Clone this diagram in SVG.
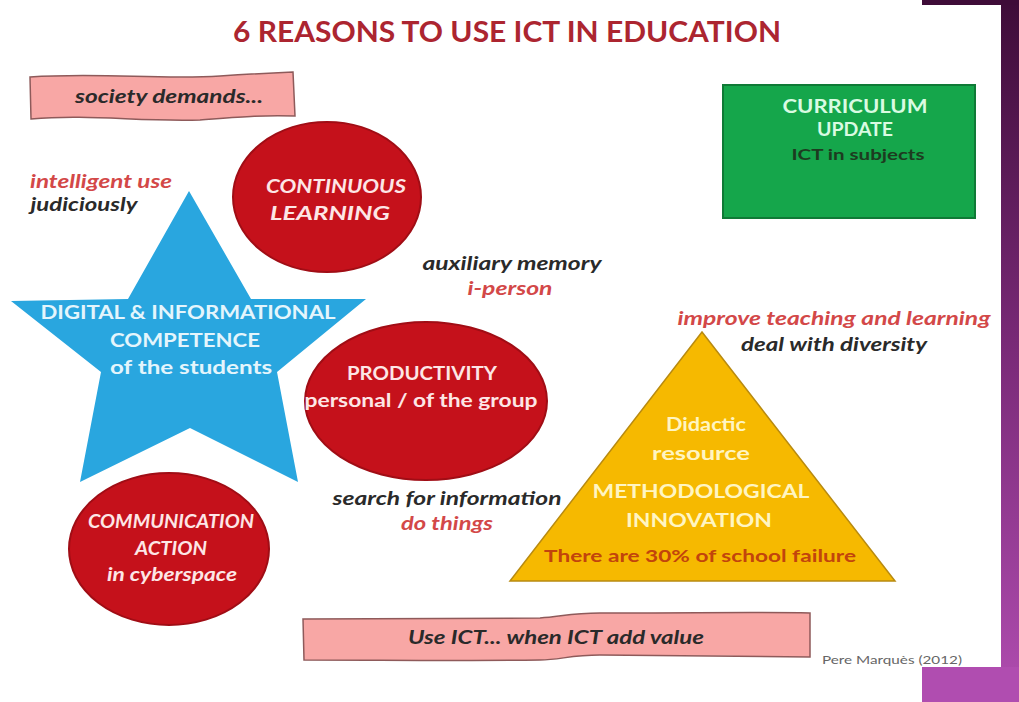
<svg xmlns="http://www.w3.org/2000/svg" width="1019" height="702" viewBox="0 0 1019 702">
<defs>
<linearGradient id="purp" x1="0" y1="0" x2="0" y2="1">
<stop offset="0" stop-color="#3e0c38"/>
<stop offset="0.5" stop-color="#7a2a78"/>
<stop offset="1" stop-color="#b04db0"/>
</linearGradient>
<style>
text{font-family:Lato,"Open Sans","Liberation Sans",sans-serif;font-weight:bold;text-anchor:middle}
.it{font-style:italic}
.red{fill:#d34848}
.dark{fill:#2a2a2a}
.onred{fill:#fde6e6}
.onblue{fill:#e4f5fc}
.onyel{fill:#fff5c2}
.ell{fill:#c5111b;stroke:#a00d15;stroke-width:2}
.banner{fill:#f8a7a5;stroke:#8e5a5a;stroke-width:1.5}
</style>
</defs>
<rect width="1019" height="702" fill="#ffffff"/>
<g id="frame">
<rect x="1001" y="0" width="18" height="702" fill="url(#purp)"/>
<rect x="922" y="0" width="97" height="5" fill="#3e0c38"/>
<rect x="922" y="667" width="97" height="35" fill="#b04db0"/>
</g>
<g id="title">
<text x="507" y="42" font-size="28" fill="#ac2530" textLength="548" lengthAdjust="spacingAndGlyphs">6 REASONS TO USE ICT IN EDUCATION</text>
</g>
<g id="society">
<path class="banner" d="M30,77 C100,72 160,80 220,76 C250,74 270,73 293,72 L295,116 C260,115 240,117 200,120 C140,122 90,114 31,119 Z"/>
<text class="it dark" x="169" y="103" font-size="19" textLength="188" lengthAdjust="spacingAndGlyphs">society demands...</text>
</g>
<g id="labels-left">
<text class="it red" x="101" y="188" font-size="19" textLength="142" lengthAdjust="spacingAndGlyphs">intelligent use</text>
<text class="it dark" x="84" y="211" font-size="19" textLength="107" lengthAdjust="spacingAndGlyphs">judiciously</text>
</g>
<g id="continuous">
<ellipse class="ell" cx="327" cy="197" rx="94" ry="75"/>
<text class="it onred" x="336" y="193" font-size="19" textLength="140" lengthAdjust="spacingAndGlyphs">CONTINUOUS</text>
<text class="it onred" x="330" y="220" font-size="19" textLength="120" lengthAdjust="spacingAndGlyphs">LEARNING</text>
</g>
<g id="competence">
<polygon fill="#29a6df" points="189,191 251,299 366,299 277,372 298,482 190,428 80,482 101,372 11,301 128,299"/>
<text class="onblue" x="188" y="319" font-size="19" textLength="295" lengthAdjust="spacingAndGlyphs">DIGITAL &amp; INFORMATIONAL</text>
<text class="onblue" x="185" y="347" font-size="19" textLength="150" lengthAdjust="spacingAndGlyphs">COMPETENCE</text>
<text class="onblue" x="191" y="374" font-size="19" textLength="162" lengthAdjust="spacingAndGlyphs">of the students</text>
</g>
<g id="labels-mid">
<text class="it dark" x="512" y="270" font-size="19" textLength="179" lengthAdjust="spacingAndGlyphs">auxiliary memory</text>
<text class="it red" x="510" y="295" font-size="19" textLength="85" lengthAdjust="spacingAndGlyphs">i-person</text>
</g>
<g id="productivity">
<ellipse class="ell" cx="426" cy="401" rx="121" ry="79"/>
<text class="onred" x="422" y="380" font-size="18" textLength="150" lengthAdjust="spacingAndGlyphs">PRODUCTIVITY</text>
<text class="onred" x="421" y="407" font-size="19" textLength="233" lengthAdjust="spacingAndGlyphs">personal / of the group</text>
</g>
<g id="labels-search">
<text class="it dark" x="447" y="505" font-size="19" textLength="229" lengthAdjust="spacingAndGlyphs">search for information</text>
<text class="it red" x="447" y="530" font-size="19" textLength="92" lengthAdjust="spacingAndGlyphs">do things</text>
</g>
<g id="communication">
<ellipse class="ell" cx="169" cy="549" rx="100" ry="76"/>
<text class="it onred" x="171" y="528" font-size="18" textLength="166" lengthAdjust="spacingAndGlyphs">COMMUNICATION</text>
<text class="it onred" x="171" y="555" font-size="18" textLength="72" lengthAdjust="spacingAndGlyphs">ACTION</text>
<text class="it onred" x="172" y="581" font-size="18" textLength="130" lengthAdjust="spacingAndGlyphs">in cyberspace</text>
</g>
<g id="curriculum">
<rect x="723" y="85" width="252" height="133" fill="#15a64b" stroke="#0f7a36" stroke-width="2"/>
<text x="855" y="113" font-size="18" fill="#d9fbe2" textLength="145" lengthAdjust="spacingAndGlyphs">CURRICULUM</text>
<text x="855" y="136" font-size="18" fill="#d9fbe2" textLength="76" lengthAdjust="spacingAndGlyphs">UPDATE</text>
<text x="858" y="160" font-size="16" fill="#1d3b20" textLength="133" lengthAdjust="spacingAndGlyphs">ICT in subjects</text>
</g>
<g id="labels-right">
<text class="it red" x="834" y="325" font-size="19" textLength="313" lengthAdjust="spacingAndGlyphs">improve teaching and learning</text>
<text class="it dark" x="834" y="351" font-size="19" textLength="186" lengthAdjust="spacingAndGlyphs">deal with diversity</text>
</g>
<g id="didactic">
<polygon points="702,332 895,581 510,581" fill="#f6b900" stroke="#b88a10" stroke-width="1.5"/>
<text class="onyel" x="706" y="431" font-size="19" textLength="80" lengthAdjust="spacingAndGlyphs">Didactic</text>
<text class="onyel" x="701" y="460" font-size="19" textLength="98" lengthAdjust="spacingAndGlyphs">resource</text>
<text class="onyel" x="701" y="498" font-size="19" textLength="217" lengthAdjust="spacingAndGlyphs">METHODOLOGICAL</text>
<text class="onyel" x="699" y="527" font-size="19" textLength="146" lengthAdjust="spacingAndGlyphs">INNOVATION</text>
<text x="700" y="562" font-size="17" fill="#c2440c" textLength="312" lengthAdjust="spacingAndGlyphs">There are 30% of school failure</text>
</g>
<g id="value">
<path class="banner" d="M303,619 C400,619 480,619 540,618 C560,617 570,613 600,613 C700,613 760,612 810,613 L810,657 C760,656 700,656 600,655 C570,655 560,660 540,660 C460,661 380,660 304,660 Z"/>
<text class="it dark" x="556" y="644" font-size="19" textLength="296" lengthAdjust="spacingAndGlyphs">Use ICT... when ICT add value</text>
</g>
<g id="credit">
<text x="892" y="664" font-size="12" fill="#666666" style="font-weight:normal" textLength="140" lengthAdjust="spacingAndGlyphs">Pere Marquès (2012)</text>
</g>
</svg>
